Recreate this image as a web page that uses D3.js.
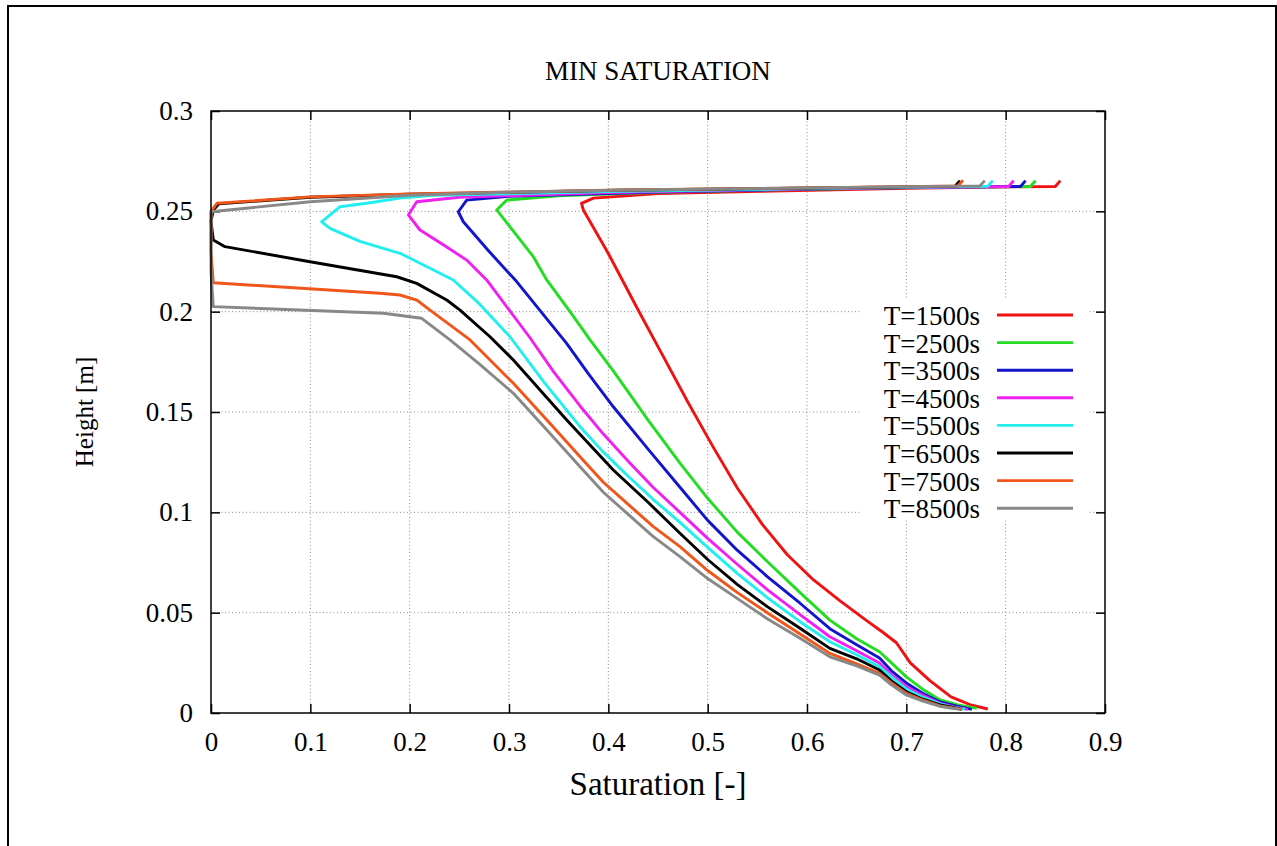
<!DOCTYPE html>
<html>
<head>
<meta charset="utf-8">
<script src="https://cdn.jsdelivr.net/npm/d3@7"></script>
<style>
  html, body { margin: 0; padding: 0; background: #fff; overflow: hidden; }
  text { font-family: "Liberation Serif", "Times New Roman", serif; fill: #000; }
</style>
</head>
<body>
<svg id="chart" width="1277" height="846"></svg>
<script>
// Axis ticks
const xTicks = [0, 0.1, 0.2, 0.3, 0.4, 0.5, 0.6, 0.7, 0.8, 0.9];
const xTickLabels = ["0", "0.1", "0.2", "0.3", "0.4", "0.5", "0.6", "0.7", "0.8", "0.9"];
const yTicks = [0, 0.05, 0.1, 0.15, 0.2, 0.25, 0.3];
const yTickLabels = ["0", "0.05", "0.1", "0.15", "0.2", "0.25", "0.3"];

// Series names (time snapshots)
const timeLabels = ["T=1500s", "T=2500s", "T=3500s", "T=4500s", "T=5500s", "T=6500s", "T=7500s", "T=8500s"];

// Saturation profiles: [saturation, height] from the bottom of the column upward
const s1500 = [[0.782,0.002],[0.765,0.004],[0.745,0.008],[0.724,0.016],[0.704,0.025],[0.690,0.035],[0.677,0.040],[0.660,0.046],[0.633,0.056],[0.605,0.067],[0.580,0.079],[0.555,0.094],[0.530,0.112],[0.505,0.133],[0.480,0.155],[0.455,0.178],[0.430,0.2008],[0.400,0.229],[0.375,0.2505],[0.373,0.254],[0.385,0.2566],[0.450,0.2588],[0.553,0.2600],[0.700,0.2615],[0.800,0.2622],[0.850,0.2624],[0.855,0.2653]];
const s2500 = [[0.771,0.0023],[0.752,0.004],[0.734,0.0065],[0.716,0.012],[0.700,0.018],[0.685,0.025],[0.673,0.0305],[0.650,0.037],[0.623,0.0463],[0.593,0.060],[0.560,0.0755],[0.530,0.090],[0.500,0.107],[0.4721,0.1245],[0.440,0.146],[0.405,0.1705],[0.3816,0.1859],[0.3614,0.2],[0.338,0.2158],[0.3245,0.2274],[0.301,0.2423],[0.2876,0.2507],[0.2977,0.2556],[0.350,0.2578],[0.450,0.2595],[0.600,0.2610],[0.700,0.2618],[0.825,0.2624],[0.830,0.2653]];
const s3500 = [[0.766,0.0018],[0.750,0.0035],[0.734,0.0055],[0.716,0.010],[0.700,0.015],[0.685,0.021],[0.673,0.0274],[0.650,0.034],[0.623,0.042],[0.593,0.0547],[0.560,0.068],[0.530,0.081],[0.500,0.096],[0.4721,0.1125],[0.440,0.1315],[0.405,0.1526],[0.380,0.169],[0.358,0.1842],[0.3077,0.2150],[0.280,0.230],[0.254,0.2448],[0.249,0.2498],[0.2574,0.2556],[0.300,0.2575],[0.450,0.2596],[0.600,0.2611],[0.700,0.2619],[0.815,0.2624],[0.820,0.2653]];
const s4500 = [[0.762,0.0018],[0.748,0.003],[0.734,0.0048],[0.716,0.009],[0.700,0.0131],[0.685,0.019],[0.673,0.0249],[0.650,0.031],[0.623,0.038],[0.593,0.049],[0.560,0.0615],[0.530,0.074],[0.500,0.087],[0.4721,0.100],[0.445,0.1125],[0.420,0.1255],[0.395,0.139],[0.3715,0.153],[0.345,0.170],[0.3211,0.187],[0.2775,0.2158],[0.2574,0.2257],[0.235,0.233],[0.2104,0.2407],[0.1987,0.2482],[0.2071,0.2548],[0.250,0.2570],[0.400,0.2594],[0.600,0.2612],[0.700,0.2619],[0.803,0.2624],[0.808,0.2653]];
const s5500 = [[0.759,0.0018],[0.746,0.003],[0.734,0.0045],[0.716,0.008],[0.700,0.012],[0.685,0.018],[0.673,0.0231],[0.650,0.029],[0.623,0.0355],[0.593,0.0455],[0.560,0.0575],[0.530,0.0695],[0.500,0.0825],[0.4721,0.095],[0.445,0.1065],[0.420,0.118],[0.395,0.130],[0.3715,0.1427],[0.335,0.165],[0.301,0.1875],[0.270,0.204],[0.2439,0.2158],[0.215,0.223],[0.1903,0.2291],[0.150,0.235],[0.1198,0.2415],[0.1114,0.2448],[0.1299,0.2523],[0.1567,0.254],[0.1903,0.2566],[0.224,0.258],[0.400,0.2598],[0.600,0.2613],[0.700,0.2620],[0.782,0.2625],[0.787,0.2653]];
const s6500 = [[0.756,0.0018],[0.745,0.003],[0.734,0.004],[0.716,0.007],[0.700,0.0106],[0.685,0.016],[0.673,0.0214],[0.650,0.027],[0.623,0.0322],[0.593,0.0422],[0.560,0.053],[0.530,0.064],[0.500,0.0765],[0.4721,0.0896],[0.440,0.105],[0.405,0.1211],[0.3581,0.146],[0.3044,0.1759],[0.2809,0.1875],[0.2507,0.2008],[0.2373,0.2058],[0.2071,0.2141],[0.187,0.2174],[0.0997,0.2249],[0.0141,0.2324],[0.0023,0.2357],[0.0,0.2450],[0.0023,0.2507],[0.008,0.2538],[0.100,0.2570],[0.200,0.2585],[0.410,0.2605],[0.600,0.2616],[0.700,0.2622],[0.749,0.2625],[0.754,0.2653]];
const s7500 = [[0.756,0.0018],[0.745,0.0027],[0.734,0.0035],[0.716,0.0065],[0.700,0.0098],[0.685,0.015],[0.673,0.0198],[0.650,0.0245],[0.623,0.0297],[0.593,0.0394],[0.560,0.050],[0.530,0.060],[0.500,0.071],[0.4721,0.0829],[0.445,0.093],[0.420,0.104],[0.395,0.115],[0.3715,0.1277],[0.340,0.145],[0.3044,0.1643],[0.2608,0.1859],[0.2205,0.2008],[0.2071,0.2058],[0.1903,0.2083],[0.1701,0.2092],[0.0023,0.2144],[0.0,0.2300],[0.0,0.2500],[0.006,0.2540],[0.100,0.2572],[0.200,0.2587],[0.410,0.2606],[0.600,0.2617],[0.700,0.2623],[0.752,0.2626],[0.757,0.2655]];
const s8500 = [[0.754,0.0018],[0.744,0.0025],[0.734,0.0033],[0.716,0.006],[0.700,0.009],[0.685,0.014],[0.673,0.0189],[0.650,0.0235],[0.623,0.028],[0.593,0.0372],[0.560,0.047],[0.530,0.057],[0.500,0.067],[0.4721,0.0779],[0.445,0.088],[0.420,0.099],[0.395,0.110],[0.3715,0.1227],[0.340,0.140],[0.3044,0.1593],[0.270,0.174],[0.2406,0.1859],[0.2121,0.1967],[0.1735,0.1992],[0.0023,0.2025],[0.0,0.2200],[0.0,0.2498],[0.100,0.2548],[0.200,0.2580],[0.300,0.2595],[0.410,0.2605],[0.600,0.2617],[0.700,0.2623],[0.774,0.2626],[0.779,0.2653]];

const profiles = [s1500, s2500, s3500, s4500, s5500, s6500, s7500, s8500];
const lineColors = ["#f01212", "#22dd22", "#1414cc", "#f020f0", "#22eeee", "#000000", "#f0561a", "#888888"];

// ---- layout ----
const svg = d3.select("#chart");
const plot = { left: 211, right: 1105, top: 111, bottom: 713 };

const x = d3.scaleLinear().domain([0, 0.9]).range([plot.left, plot.right]);
const y = d3.scaleLinear().domain([0, 0.3]).range([plot.bottom, plot.top]);

// outer frame
svg.append("rect")
  .attr("x", 8).attr("y", 6).attr("width", 1268).attr("height", 880)
  .attr("fill", "none").attr("stroke", "#000").attr("stroke-width", 2);

// title
svg.append("text")
  .attr("x", 658).attr("y", 80)
  .attr("text-anchor", "middle")
  .style("font-size", "27px")
  .text("MIN SATURATION");

// dotted grid
const grid = svg.append("g").attr("stroke", "#8a8a8a").attr("stroke-width", 1)
  .attr("stroke-dasharray", "1,2.5");
grid.selectAll("line.gx").data(xTicks.slice(1, -1)).join("line")
  .attr("x1", d => x(d)).attr("x2", d => x(d))
  .attr("y1", plot.top).attr("y2", plot.bottom);
grid.selectAll("line.gy").data(yTicks.slice(1, -1)).join("line")
  .attr("x1", plot.left).attr("x2", plot.right)
  .attr("y1", d => y(d)).attr("y2", d => y(d));

// key background
svg.append("rect")
  .attr("x", 862).attr("y", 300).attr("width", 225).attr("height", 220)
  .attr("fill", "#fff");

// axes with inward ticks
const tickLen = 9;
const fmtX = (d, i) => xTickLabels[i];
const fmtY = (d, i) => yTickLabels[i];

const axB = svg.append("g").attr("transform", `translate(0,${plot.bottom})`)
  .call(d3.axisBottom(x).tickValues(xTicks).tickFormat(fmtX)
    .tickSizeInner(-tickLen).tickSizeOuter(0).tickPadding(19));
const axL = svg.append("g").attr("transform", `translate(${plot.left},0)`)
  .call(d3.axisLeft(y).tickValues(yTicks).tickFormat(fmtY)
    .tickSizeInner(-tickLen).tickSizeOuter(0).tickPadding(18));
const axT = svg.append("g").attr("transform", `translate(0,${plot.top})`)
  .call(d3.axisTop(x).tickValues(xTicks).tickFormat("")
    .tickSizeInner(-tickLen).tickSizeOuter(0));
const axR = svg.append("g").attr("transform", `translate(${plot.right},0)`)
  .call(d3.axisRight(y).tickValues(yTicks).tickFormat("")
    .tickSizeInner(-tickLen).tickSizeOuter(0));

[axB, axL, axT, axR].forEach(g => {
  g.select(".domain").remove();
  g.selectAll(".tick line").attr("stroke", "#000").attr("stroke-width", 1.5);
  g.selectAll(".tick text")
    .style("font-family", "'Liberation Serif', 'Times New Roman', serif")
    .style("font-size", "27px").attr("fill", "#000");
});

// profile curves
const lineGen = d3.line().x(d => x(d[0])).y(d => y(d[1]));
svg.append("g").selectAll("path").data(profiles).join("path")
  .attr("d", lineGen)
  .attr("fill", "none")
  .attr("stroke", (d, i) => lineColors[i])
  .attr("stroke-width", 2.9)
  .attr("stroke-linejoin", "round");

// plot border
svg.append("rect")
  .attr("x", plot.left).attr("y", plot.top)
  .attr("width", plot.right - plot.left).attr("height", plot.bottom - plot.top)
  .attr("fill", "none").attr("stroke", "#000").attr("stroke-width", 1.5);

// key
const key = svg.append("g");
const keyRows = key.selectAll("g").data(timeLabels).join("g")
  .attr("transform", (d, i) => `translate(0,${315 + i * 27.6})`);
keyRows.append("text")
  .attr("x", 980).attr("y", 10)
  .attr("text-anchor", "end")
  .style("font-size", "27px")
  .text(d => d);
keyRows.append("line")
  .attr("x1", 997).attr("x2", 1073).attr("y1", 0).attr("y2", 0)
  .attr("stroke", (d, i) => lineColors[i]).attr("stroke-width", 2.9);

// axis titles
svg.append("text")
  .attr("x", 658).attr("y", 795)
  .attr("text-anchor", "middle")
  .style("font-size", "33px")
  .text("Saturation [-]");
svg.append("text")
  .attr("transform", "translate(93,412) rotate(-90)")
  .attr("text-anchor", "middle")
  .style("font-size", "25px")
  .text("Height [m]");
</script>
</body>
</html>
